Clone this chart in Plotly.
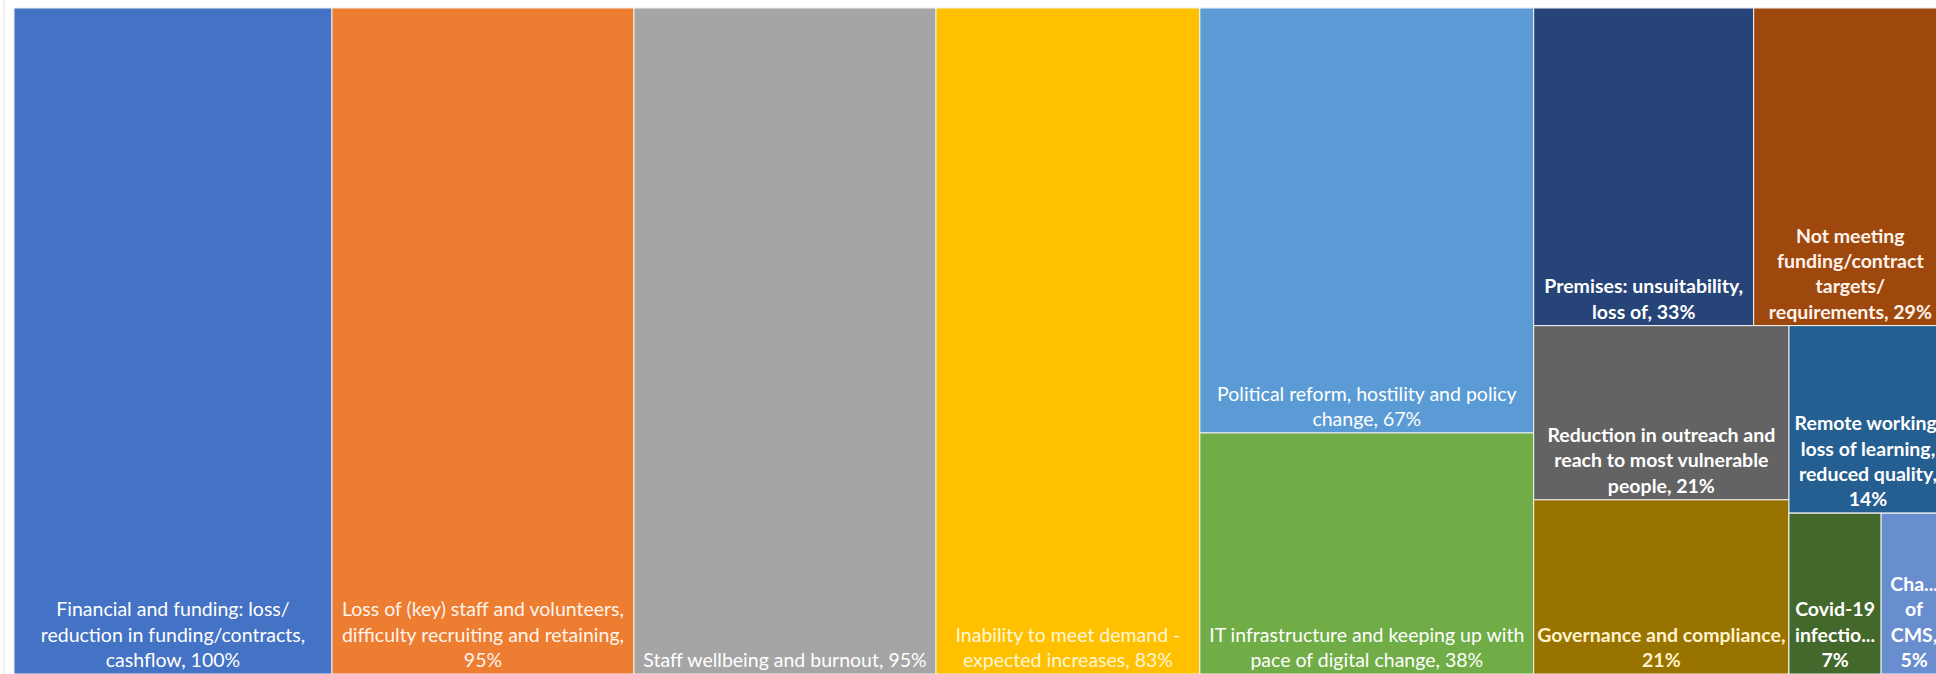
import plotly.graph_objects as go

# Risks reported by organisations (% of respondents)
risk_names = [
    "Financial and funding: loss/<br>reduction in funding/contracts,<br>cashflow",
    "Loss of (key) staff and volunteers,<br>difficulty recruiting and retaining",
    "Staff wellbeing and burnout",
    "Inability to meet demand -<br>expected increases",
    "Political reform, hostility and policy<br>change",
    "IT infrastructure and keeping up with<br>pace of digital change",
    "Premises: unsuitability,<br>loss of",
    "Not meeting<br>funding/contract<br>targets/<br>requirements",
    "Reduction in outreach and<br>reach to most vulnerable<br>people",
    "Governance and compliance",
    "Remote working,<br>loss of learning,<br>reduced quality",
    "Covid-19<br>infectio...",
    "Cha...<br>of<br>CMS",
]
risk_pct = [100, 95, 95, 83, 67, 38, 33, 29, 21, 21, 14, 7, 5]
# separator between the wrapped name and its percentage
value_sep = [", ", ",<br>", ", ", ", ", ", ", ", ", ", ", ", ", ", ", ",<br>", ",<br>", "<br>", ",<br>"]
risk_colors = [
    "#4472C4", "#ED7D31", "#A5A5A5", "#FFC000", "#5B9BD5", "#70AD47",
    "#264478", "#9E480E", "#636363", "#997300", "#255E91", "#43682B", "#698ED0",
]
risk_text_colors = [
    "#FFFFFF", "#FFF4EC", "#FFFFFF", "#FFF6DA", "#FFFFFF", "#FFFFFF",
    "#FFFFFF", "#FFF4EC", "#FFFFFF", "#FFF2CC", "#FFFFFF", "#FFFFFF", "#FFFFFF",
]
# grouping used to nest the tiles (alternating column / row splits)
risk_group = ["root", "root", "root", "root", "g_pol", "g_pol",
              "g_top", "g_top", "g_left2", "g_left2", "g_right2", "g_small", "g_small"]
bold_labels = [False] * 6 + [True] * 7

# group nodes in nesting order: (id, parent)
groups = [("root", ""), ("g_pol", "root"), ("g_rest", "root"), ("g_top", "g_rest"),
          ("g_bottom", "g_rest"), ("g_left2", "g_bottom"), ("g_right2", "g_bottom"),
          ("g_small", "g_right2")]

ids, parents, values, colors, texts, tcolors = [], [], [], [], [], []


def add(i, p, v, c, t, tc):
    ids.append(i); parents.append(p); values.append(v)
    colors.append(c); texts.append(t); tcolors.append(tc)


for gid, gpar in groups:
    add(gid, gpar, 0, "#FFFFFF", "", "#FFFFFF")
    for name, pct, sep, col, tcol, grp, bold in zip(risk_names, risk_pct, value_sep, risk_colors,
                                                     risk_text_colors, risk_group, bold_labels):
        if grp != gid:
            continue
        label = f"{name}{sep}{pct}%"
        if bold:
            label = "<b>" + label + "</b>"
        add(name, grp, pct, col, label, tcol)

fig = go.Figure(go.Treemap(
    ids=ids,
    labels=[""] * len(ids),
    parents=parents,
    values=values,
    branchvalues="remainder",
    sort=False,
    text=texts,
    texttemplate="%{text}",
    textposition="bottom center",
    textfont=dict(family="Lato, Open Sans, sans-serif", size=19.5, color=tcolors),
    marker=dict(colors=colors, line=dict(width=1, color="#F2F2F2"),
                pad=dict(t=0, l=0, r=0, b=0)),
    tiling=dict(packing="slice-dice", pad=0),
    pathbar=dict(visible=False),
    hoverinfo="skip",
))

# the chart runs a few pixels past the right edge of the window
fig.update_layout(
    width=1947, height=674,
    margin=dict(l=14, t=8, r=0, b=0),
    paper_bgcolor="white",
    uniformtext=dict(minsize=19.5, mode="show"),
    shapes=[dict(type="line", xref="paper", yref="paper", x0=-0.0052, x1=-0.0052,
                 y0=0, y1=1.02, line=dict(color="#E3E3E3", width=1))],
)

fig.write_html(
    "out.html",
    post_script="document.documentElement.style.overflow='hidden';document.body.style.overflow='hidden';document.body.style.margin='0';",
)
